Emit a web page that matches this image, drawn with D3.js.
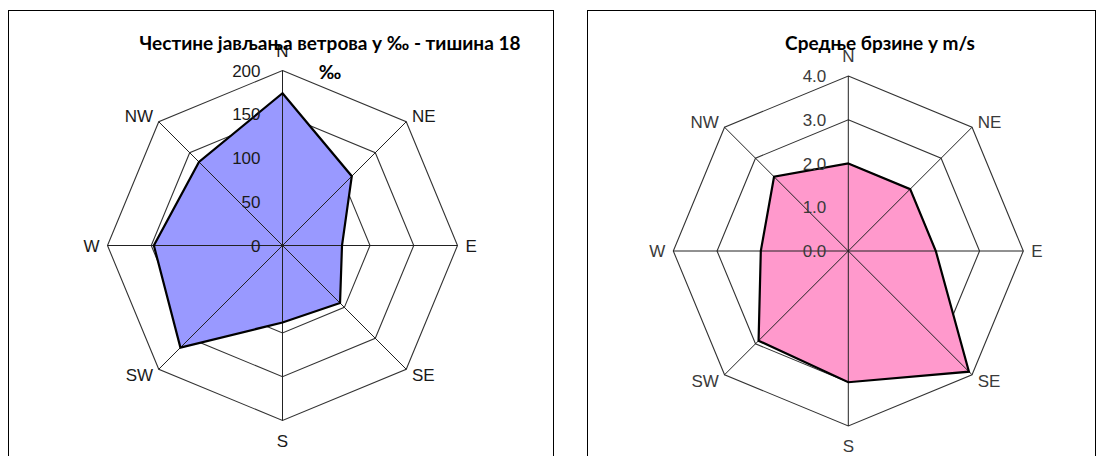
<!DOCTYPE html>
<html>
<head>
<meta charset="utf-8">
<script src="https://cdn.jsdelivr.net/npm/d3@7/dist/d3.min.js"></script>
<style>
  html, body { margin: 0; padding: 0; background: #fff; }
  svg { display: block; }
</style>
</head>
<body>
<svg id="chart" width="1100" height="456"></svg>
<script>
// Wind directions, clockwise from north
const directions = ["N", "NE", "E", "SE", "S", "SW", "W", "NW"];

// Frequency of wind occurrence per direction, in ‰ (calm = 18 ‰)
const frequencyValues = [174, 112, 68, 93, 88, 165, 147, 135];
const frequencyTicks = [0, 50, 100, 150, 200];
const frequencyTickLabels = ["0", "50", "100", "150", "200"];

// Mean wind speed per direction, in m/s
const speedValues = [2.0, 2.0, 2.0, 3.9, 3.0, 2.9, 2.0, 2.4];
const speedTicks = [0, 1, 2, 3, 4];
const speedTickLabels = ["0.0", "1.0", "2.0", "3.0", "4.0"];

const svg = d3.select("#chart");

function radar(opts) {
  const g = svg.append("g");

  // panel frame
  g.append("rect")
    .attr("x", opts.frame[0] + 0.5).attr("y", opts.frame[1] + 0.5)
    .attr("width", opts.frame[2]).attr("height", opts.frame[3])
    .attr("fill", "#fff").attr("stroke", "#000").attr("stroke-width", 1);

  const cx = opts.cx, cy = opts.cy;
  const r = d3.scaleLinear().domain([0, opts.max]).range([0, opts.radius]);
  const angle = d3.scalePoint().domain(directions).range([0, 2 * Math.PI * (directions.length - 1) / directions.length]);

  const plot = g.append("g").attr("transform", `translate(${cx},${cy})`);

  const ring = d3.lineRadial()
    .angle(d => angle(d))
    .curve(d3.curveLinearClosed);

  // concentric grid polygons
  plot.selectAll("path.ring")
    .data(opts.ticks.filter(t => t > 0))
    .join("path")
    .attr("class", "ring")
    .attr("d", t => ring.radius(() => r(t))(directions))
    .attr("fill", "none")
    .attr("stroke", "#333")
    .attr("stroke-width", 1.1);

  // data polygon
  const area = d3.lineRadial()
    .angle((d, i) => angle(directions[i]))
    .radius(d => r(d))
    .curve(d3.curveLinearClosed);

  plot.append("path")
    .attr("d", area(opts.values))
    .attr("fill", opts.fill)
    .attr("stroke", "none");

  // spokes drawn over the fill
  plot.selectAll("line.spoke")
    .data(directions)
    .join("line")
    .attr("class", "spoke")
    .attr("x1", 0).attr("y1", 0)
    .attr("x2", d => Math.sin(angle(d)) * r(opts.max))
    .attr("y2", d => -Math.cos(angle(d)) * r(opts.max))
    .attr("stroke", "#222")
    .attr("stroke-width", 1);

  plot.append("path")
    .attr("d", area(opts.values))
    .attr("fill", "none")
    .attr("stroke", "#000")
    .attr("stroke-width", 2.2)
    .attr("stroke-linejoin", "miter");

  // value axis labels along the north spoke
  plot.selectAll("text.tick")
    .data(opts.ticks)
    .join("text")
    .attr("class", "tick")
    .attr("x", -22)
    .attr("y", t => -r(t))
    .attr("dy", "0.36em")
    .attr("text-anchor", "end")
    .attr("font-family", "'Liberation Sans', Arial, sans-serif")
    .attr("font-size", 17)
    .attr("fill", opts.labelColor)
    .text((t, i) => opts.tickLabels[i]);

  // direction labels: N/S above and below the spoke tip, the rest beside it
  const R = r(opts.max);
  plot.selectAll("text.dir")
    .data(directions)
    .join("text")
    .attr("class", "dir")
    .attr("x", d => Math.sin(angle(d)) * (R + 8))
    .attr("y", d => {
      const c = Math.cos(angle(d));
      return Math.abs(Math.abs(c) - 1) < 0.01 ? -c * (R + 20) : -c * (R + 8);
    })
    .attr("dy", "0.36em")
    .attr("text-anchor", d => {
      const s = Math.sin(angle(d));
      return Math.abs(s) < 0.01 ? "middle" : (s > 0 ? "start" : "end");
    })
    .attr("font-family", "'Liberation Sans', Arial, sans-serif")
    .attr("font-size", 17)
    .attr("fill", opts.labelColor)
    .text(d => d);

  // title
  const title = g.append("text")
    .attr("x", opts.titleX)
    .attr("y", opts.titleY)
    .attr("text-anchor", "middle")
    .attr("font-family", "Lato, 'Open Sans', sans-serif")
    .attr("font-weight", "bold")
    .attr("font-size", 19)
    .attr("fill", "#000");
  opts.title.forEach((line, i) => {
    title.append("tspan")
      .attr("x", opts.titleX)
      .attr("dy", i === 0 ? 0 : 29)
      .text(line);
  });
}

radar({
  frame: [8, 10, 545, 470],
  cx: 282.5, cy: 245.5, radius: 175,
  max: 200,
  ticks: frequencyTicks, tickLabels: frequencyTickLabels,
  values: frequencyValues,
  fill: "#9999ff",
  labelColor: "#1a1a1a",
  title: ["Честине јављања ветрова у ‰ - тишина 18", "‰"],
  titleX: 330, titleY: 50
});

radar({
  frame: [587, 10, 508, 470],
  cx: 848.3, cy: 251, radius: 175,
  max: 4,
  ticks: speedTicks, tickLabels: speedTickLabels,
  values: speedValues,
  fill: "#ff99cc",
  labelColor: "#3a3a3a",
  title: ["Средње брзине у m/s"],
  titleX: 880, titleY: 50
});
</script>
</body>
</html>
